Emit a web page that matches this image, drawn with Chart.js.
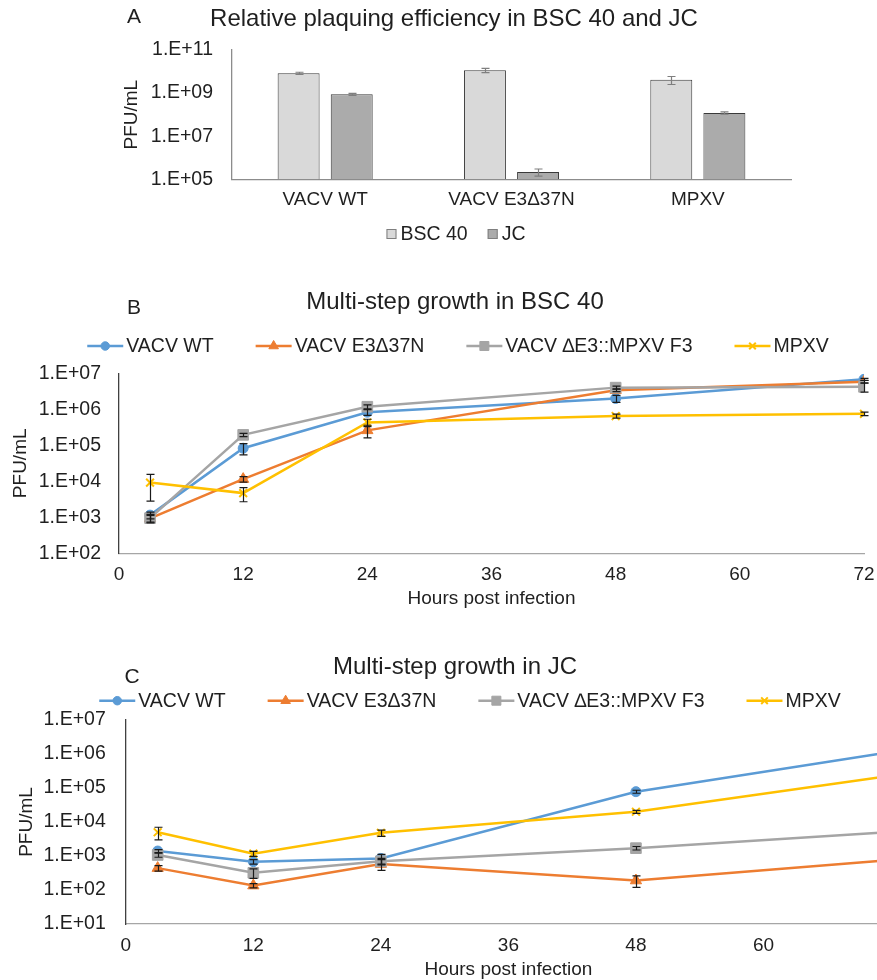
<!DOCTYPE html>
<html>
<head>
<meta charset="utf-8">
<script src="https://cdn.jsdelivr.net/npm/chart.js@4.4.1/dist/chart.umd.min.js"></script>
<style>
  html, body { margin: 0; padding: 0; background: #fff; overflow: hidden; }
  body { width: 877px; height: 980px; position: relative; }
  canvas { position: absolute; left: 0; }
</style>
</head>
<body>
<canvas id="chartA" width="877" height="250" style="top:0px"></canvas>
<canvas id="chartB" width="877" height="335" style="top:285px"></canvas>
<canvas id="chartC" width="905" height="340" style="top:650px"></canvas>
<script>
// ---- data: panel A (plaquing efficiency) ----
const virusNames = ['VACV WT', 'VACV E3Δ37N', 'MPXV'];
const bsc40Titer = [8.3e9, 1.15e10, 4.2e9];
const bsc40Err = [1.0e9, 2.5e9, 1.7e9];
const jcTiter = [8.8e8, 2.2e5, 1.2e8];
const jcErr = [1.0e8, 0.8e5, 1.5e7];
const ticksA = [1e5, 1e7, 1e9, 1e11];

// ---- data: growth curves (B = BSC 40, C = JC) ----
const hours = [3, 12, 24, 48, 72];
const seriesNames = ['VACV WT', 'VACV E3Δ37N', 'VACV ∆E3::MPXV F3', 'MPXV'];

const bscWT = [1.15e3, 8.3e4, 8.3e5, 2.0e6, 6.8e6];
const bscE3 = [9.3e2, 1.15e4, 2.6e5, 3.4e6, 5.8e6];
const bscF3 = [9.5e2, 1.95e5, 1.18e6, 4.0e6, 4.2e6];
const bscMPXV = [9.2e3, 4.7e3, 4.3e5, 6.5e5, 7.5e5];
const bscWTErr = [2.5e2, 2.9e4, 1.5e5, 4.5e5, 4e5];
const bscE3Err = [2e2, 2e3, 1e5, 3e5, 5e5];
const bscF3Err = [2.5e2, 2e4, 1.5e5, 4e5, 1.2e6];
const bscMPXVErr = [6.4e3, 2e3, 1e5, 8e4, 8e4];
const ticksB = [1e2, 1e3, 1e4, 1e5, 1e6, 1e7];

const jcWT = [1.4e3, 6.8e2, 8.5e2, 7.8e4, 1.15e6];
const jcE3 = [4.4e2, 1.35e2, 5.8e2, 1.9e2, 7.6e2];
const jcF3 = [1.07e3, 3.2e2, 7.0e2, 1.7e3, 5.1e3];
const jcMPXV = [5e3, 1.17e3, 4.8e3, 2e4, 2.3e5];
const jcWTErr = [1.5e2, 1e2, 2.7e2, 8e3, 1e5];
const jcE3Err = [8e1, 2e1, 2e2, 7e1, 1e2];
const jcF3Err = [1.5e2, 1e2, 1.5e2, 2e2, 5e2];
const jcMPXVErr = [2e3, 2e2, 1e3, 2e3, 2e4];
const ticksC = [1e1, 1e2, 1e3, 1e4, 1e5, 1e6, 1e7];

// ---- styling ----
const FONT = "'Liberation Sans', Arial, sans-serif";
const TEXT = '#1f1f1f';
const seriesColors = ['#5B9BD5', '#ED7D31', '#A5A5A5', '#FFC000'];
const seriesMarkers = ['circle', 'triangle', 'rect', 'crossRot'];
const markerRadius = [5, 6.5, 7.5, 5.5];

Chart.defaults.font.family = FONT;
Chart.defaults.color = TEXT;
Chart.defaults.animation = false;

const sci = v => '1.E+' + String(Math.round(Math.log10(v))).padStart(2, '0');

// error bars drawn with the chart's own y scale
const errorBars = {
  id: 'errorBars',
  afterDatasetsDraw(chart, args, o) {
    const ctx = chart.ctx;
    const y = chart.scales.y;
    ctx.save();
    ctx.strokeStyle = o.color;
    ctx.lineWidth = o.width;
    chart.data.datasets.forEach((ds, di) => {
      if (!ds.errors) return;
      const meta = chart.getDatasetMeta(di);
      meta.data.forEach((el, i) => {
        const v = meta.controller.getParsed(i).y;
        const e = ds.errors[i];
        const top = y.getPixelForValue(v + e);
        const bot = y.getPixelForValue(Math.max(v - e, y.min));
        const x = Math.round(el.x) + 0.5;
        ctx.beginPath();
        ctx.moveTo(x, top); ctx.lineTo(x, bot);
        ctx.moveTo(x - o.cap, top); ctx.lineTo(x + o.cap, top);
        ctx.moveTo(x - o.cap, bot); ctx.lineTo(x + o.cap, bot);
        ctx.stroke();
      });
    });
    ctx.restore();
  }
};

// panel letter + chart title
const panelText = {
  id: 'panelText',
  afterDraw(chart, args, o) {
    const ctx = chart.ctx;
    ctx.save();
    ctx.fillStyle = TEXT;
    ctx.textAlign = 'center';
    ctx.textBaseline = 'middle';
    ctx.font = o.titleSize + 'px ' + FONT;
    ctx.fillText(o.title, o.titleX, o.titleY);
    ctx.font = o.letterSize + 'px ' + FONT;
    ctx.fillText(o.letter, o.letterX, o.letterY);
    ctx.restore();
  }
};

// legend in the Excel look (boxes for bars, line + marker for series)
const seriesLegend = {
  id: 'seriesLegend',
  afterDraw(chart, args, o) {
    const ctx = chart.ctx;
    ctx.save();
    ctx.font = o.size + 'px ' + FONT;
    ctx.textAlign = 'left';
    ctx.textBaseline = 'middle';
    const sym = o.style === 'box' ? o.box : o.lineLen;
    const items = chart.data.datasets.map(ds => ({ ds, w: ctx.measureText(ds.label).width }));
    const total = items.reduce((s, it) => s + sym + o.textGap + it.w, 0) + o.itemGap * (items.length - 1);
    let x = o.centerX - total / 2;
    items.forEach(({ ds, w }) => {
      if (o.style === 'box') {
        ctx.fillStyle = ds.backgroundColor;
        ctx.fillRect(x, o.y - o.box / 2, o.box, o.box);
        ctx.strokeStyle = o.boxBorder;
        ctx.lineWidth = 1;
        ctx.strokeRect(x + 0.5, o.y - o.box / 2 + 0.5, o.box - 1, o.box - 1);
      } else {
        ctx.strokeStyle = ds.borderColor;
        ctx.lineWidth = ds.borderWidth;
        ctx.beginPath();
        ctx.moveTo(x, o.y); ctx.lineTo(x + o.lineLen, o.y);
        ctx.stroke();
        ctx.fillStyle = ds.pointBackgroundColor;
        ctx.strokeStyle = ds.pointBorderColor;
        ctx.lineWidth = ds.pointBorderWidth;
        Chart.helpers.drawPoint(ctx, {
          pointStyle: ds.pointStyle, rotation: 0,
          radius: ds.pointRadius * o.markerScale, borderWidth: ds.pointBorderWidth
        }, x + o.lineLen / 2, o.y);
      }
      x += sym + o.textGap;
      ctx.fillStyle = TEXT;
      ctx.fillText(ds.label, x, o.y + 1);
      x += w + o.itemGap;
    });
    ctx.restore();
  }
};

// ---- Panel A ----
new Chart(document.getElementById('chartA'), {
  type: 'bar',
  data: {
    labels: virusNames,
    datasets: [
      { label: 'BSC 40', data: bsc40Titer, errors: bsc40Err,
        backgroundColor: '#D9D9D9', borderColor: '#3a3a3a', borderWidth: 1 },
      { label: 'JC', data: jcTiter, errors: jcErr,
        backgroundColor: '#ABABAB', borderColor: '#3a3a3a', borderWidth: 1 }
    ]
  },
  options: {
    responsive: false,
    layout: { padding: { top: 50, left: 120, right: 86, bottom: 10.7 } },
    datasets: { bar: { categoryPercentage: 0.57, barPercentage: 0.79 } },
    plugins: {
      legend: { display: false },
      tooltip: { enabled: false },
      errorBars: { color: '#7f7f7f', width: 1.2, cap: 4 },
      panelText: { title: 'Relative plaquing efficiency in BSC 40 and JC', titleSize: 24,
        titleX: 454, titleY: 19, letter: 'A', letterSize: 21, letterX: 134, letterY: 17 },
      seriesLegend: { style: 'box', size: 19.5, box: 10, boxBorder: '#7f7f7f',
        textGap: 4, itemGap: 20, centerX: 456, y: 234 }
    },
    scales: {
      x: {
        grid: { display: false, drawTicks: false },
        border: { color: '#8c8c8c', width: 1.3 },
        ticks: { padding: 9.3, font: { size: 19 }, color: TEXT },
        afterFit: s => { s.height = 60; }
      },
      y: {
        type: 'logarithmic', min: 1e5, max: 1e11,
        afterBuildTicks: s => { s.ticks = ticksA.map(v => ({ value: v })); },
        grid: { display: false, drawTicks: false },
        border: { color: '#8c8c8c', width: 1.3 },
        ticks: { callback: sci, padding: 19, font: { size: 19.5 }, color: TEXT },
        title: { display: true, text: 'PFU/mL', font: { size: 19 }, padding: 0, color: TEXT },
        afterFit: s => { s.width = 112; }
      }
    }
  },
  plugins: [errorBars, panelText, seriesLegend]
});

// ---- Panels B and C ----
function lineDatasets(values, errors) {
  return seriesNames.map((name, s) => ({
    label: name,
    data: hours.map((h, i) => ({ x: h, y: values[s][i] })),
    errors: errors[s],
    borderColor: seriesColors[s],
    backgroundColor: seriesColors[s],
    pointBackgroundColor: seriesColors[s],
    pointBorderColor: seriesColors[s],
    pointStyle: seriesMarkers[s],
    pointRadius: markerRadius[s],
    pointBorderWidth: s === 3 ? 2 : 1,
    borderWidth: 2.5,
    tension: 0,
    order: 3 - s
  }));
}

function growthChart(id, values, errors, tickVals, g) {
  return new Chart(document.getElementById(id), {
    type: 'line',
    data: { datasets: lineDatasets(values, errors) },
    options: {
      responsive: false,
      layout: { padding: { top: g.top, left: g.left, right: g.right, bottom: 0 } },
      plugins: {
        legend: { display: false },
        tooltip: { enabled: false },
        errorBars: { color: '#1a1a1a', width: 1.2, cap: 4 },
        panelText: { title: g.title, titleSize: 24, titleX: 455, titleY: 17,
          letter: g.letter, letterSize: 21, letterX: g.letterX, letterY: g.letterY },
        seriesLegend: { style: 'line', size: 19.5, lineLen: 36, markerScale: 0.85,
          textGap: 3, itemGap: 42, centerX: g.legendX, y: g.legendY }
      },
      scales: {
        x: {
          type: 'linear', min: 0, max: 72,
          grid: { display: false, drawTicks: false },
          border: { color: '#a6a6a6', width: 1.3 },
          ticks: { stepSize: 12, padding: g.xPad, font: { size: 19 }, color: TEXT },
          title: { display: true, text: 'Hours post infection', font: { size: 19 },
            padding: { top: 0, bottom: g.xTitlePad }, color: TEXT },
          afterFit: s => { s.height = g.xHeight; s.paddingLeft = 0; s.paddingRight = 0; }
        },
        y: {
          type: 'logarithmic', min: tickVals[0], max: tickVals[tickVals.length - 1],
          afterBuildTicks: s => { s.ticks = tickVals.map(v => ({ value: v })); },
          grid: { display: false, drawTicks: false },
          border: { color: '#404040', width: 1.3 },
          ticks: { callback: sci, padding: g.yPad, font: { size: 19.5 }, color: TEXT },
          title: { display: true, text: 'PFU/mL', font: { size: 19 }, padding: 0, color: TEXT },
          afterFit: s => { s.width = g.yWidth; }
        }
      }
    },
    plugins: [errorBars, panelText, seriesLegend]
  });
}

growthChart('chartB',
  [bscWT, bscE3, bscF3, bscMPXV],
  [bscWTErr, bscE3Err, bscF3Err, bscMPXVErr],
  ticksB,
  { top: 88.3, left: 9, right: 13, yWidth: 110, yPad: 18, xHeight: 66.7, xPad: 10.3, xTitlePad: 10.3,
    title: 'Multi-step growth in BSC 40', letter: 'B', letterX: 134, letterY: 23,
    legendX: 458, legendY: 61 });

growthChart('chartC',
  [jcWT, jcE3, jcF3, jcMPXV],
  [jcWTErr, jcE3Err, jcF3Err, jcMPXVErr],
  ticksC,
  { top: 70, left: 15, right: 14, yWidth: 110.8, yPad: 20, xHeight: 66, xPad: 10.6, xTitlePad: 8.6,
    title: 'Multi-step growth in JC', letter: 'C', letterX: 132, letterY: 27,
    legendX: 470, legendY: 50.7 });
</script>
</body>
</html>
